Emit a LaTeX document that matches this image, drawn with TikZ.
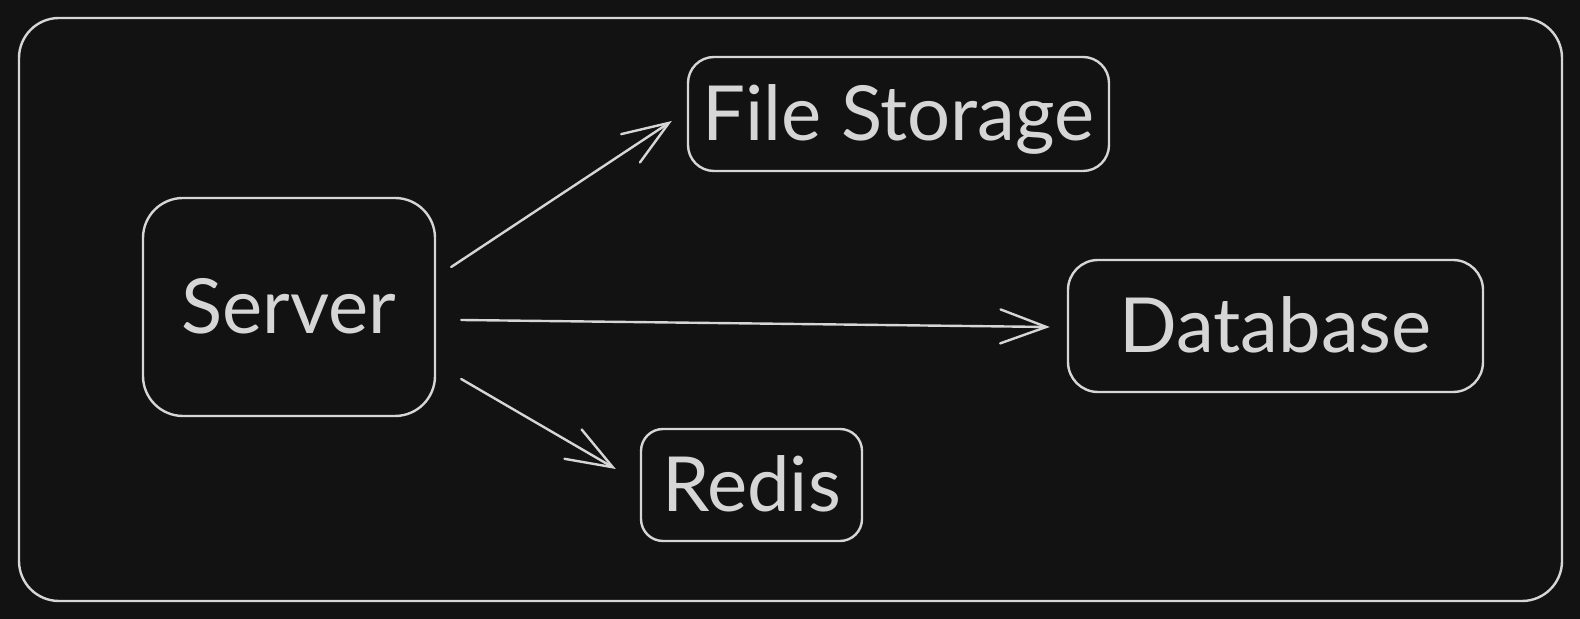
\documentclass[tikz,border=0pt]{standalone}
\usepackage{fontspec}
\setmainfont{Lato}
\usetikzlibrary{arrows.meta,calc}

\definecolor{canvas}{HTML}{121212}
\definecolor{chalk}{HTML}{D6D6D6}

\tikzset{
  box/.style={draw=chalk, text=chalk, line width=1.2pt, inner sep=0pt,
    font=\fontsize{38}{42}\selectfont, text height=27pt, text depth=0pt},
  link/.style={->, draw=chalk, line width=1.2pt, line cap=round, line join=round}
}

\begin{document}
\begin{tikzpicture}[x=0.5pt, y=-0.5pt, >={Straight Barb[length=23pt,width=17pt,line cap=round]}]

% Background
\fill[canvas] (0,0) rectangle (1580,619);
\useasboundingbox (0,0) rectangle (1580,619);

% Outer frame
\draw[chalk, line width=1.2pt, rounded corners=20pt] (19,18) rectangle (1562,601);

% Nodes
\node[box, rounded corners=20pt, minimum width=146pt, minimum height=109pt] (server) at (289,307) {Server};
\node[box, rounded corners=13pt, minimum width=210.5pt, minimum height=57pt] (files) at (898.5,114) {File Storage};
\node[box, rounded corners=15pt, minimum width=207.5pt, minimum height=66pt] (db) at (1275.5,326) {Database};
\node[box, rounded corners=11pt, minimum width=110.5pt, minimum height=56pt] (redis) at (751.5,485) {Redis};

% Connectors
\draw[link] ($(server.east)+(15,-40)$) -- ($(files.west)+(-15,7)$);
\draw[link] ($(server.east)+(25,13)$) -- ($(db.west)+(-17,1)$);
\draw[link] ($(server.east)+(25,72)$) -- ($(redis.west)+(-24,-16)$);

\end{tikzpicture}
\end{document}
